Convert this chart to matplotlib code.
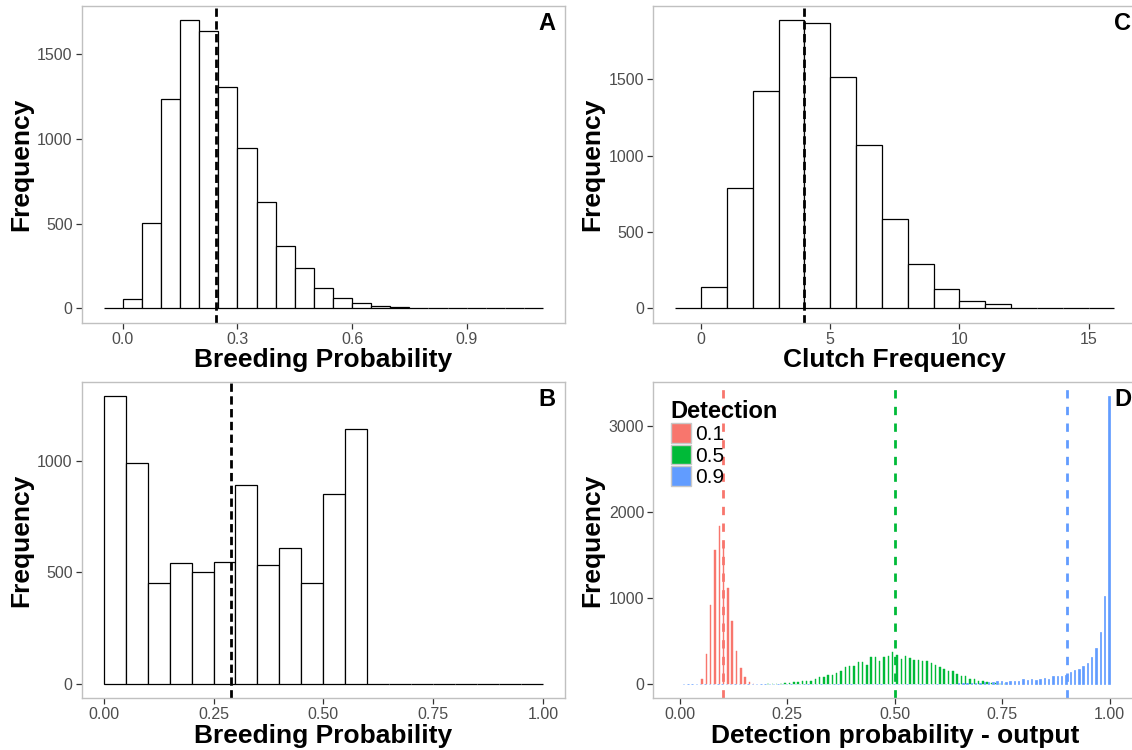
import matplotlib.pyplot as plt
import numpy as np
from matplotlib.patches import Patch
from matplotlib.transforms import blended_transform_factory

plt.rcParams['font.family'] = ['Liberation Sans', 'DejaVu Sans']

# Panel A: breeding probability, bins of 0.05 starting at -0.05
a_start, a_bw = -0.05, 0.05
a_counts = [0, 53, 505, 1234, 1702, 1639, 1306, 946, 629, 370, 236, 122,
            59, 33, 12, 8, 2, 1, 3, 1, 1, 2, 0]
a_line = 0.245
a_xticks = [0.0, 0.3, 0.6, 0.9]
a_xticklabels = ['0.0', '0.3', '0.6', '0.9']

# Panel B: breeding probability, bins of 0.05 from 0 to 1
b_start, b_bw = 0.0, 0.05
b_counts = [1290, 989, 453, 541, 500, 545, 891, 535, 610, 451, 852, 1142,
            0, 0, 0, 0, 0, 0, 0, 0]
b_line = 0.29
b_xticks = [0.0, 0.25, 0.5, 0.75, 1.0]
b_xticklabels = ['0.00', '0.25', '0.50', '0.75', '1.00']

# Panel C: clutch frequency, bins of 1 starting at -1
c_start, c_bw = -1, 1
c_counts = [0, 138, 786, 1426, 1889, 1870, 1514, 1070, 587, 290, 129, 50,
            30, 5, 1, 2, 1]
c_line = 4.0
c_xticks = [0, 5, 10, 15]
c_xticklabels = ['0', '5', '10', '15']

# Panel D: detection probability output, bins of 0.01 from 0 to 1
d_bw = 0.01
red_start = 0.05
red_counts = [58, 349, 919, 1550, 1833, 1650, 1116, 725, 380, 190, 75, 22, 5]
green_start = 0.20
green_counts = [2, 3, 4, 4, 12, 12, 19, 23, 31, 31, 39, 58, 78, 78, 105, 105,
                128, 155, 202, 209, 209, 256, 256, 225, 310, 310, 271, 310,
                322, 372, 340, 295, 329, 302, 283, 283, 264, 264, 244, 225,
                194, 178, 147, 147, 120, 89, 89, 62, 58, 31, 39, 19, 12, 8,
                4, 2]
blue_start = 0.0
blue_counts = [0] * 60 + [2, 3, 4, 5, 6, 8, 10, 12, 14, 16, 18, 22, 27, 31,
                          31, 27, 31, 39, 31, 58, 47, 54, 43, 54, 70, 62, 89,
                          97, 97, 105, 136, 160, 171, 210, 248, 318, 415, 601,
                          1019, 3341]
d_levels = ['0.1', '0.5', '0.9']
d_true = [0.1, 0.5, 0.9]
d_colors = ['#F8766D', '#00BA38', '#619CFF']
d_xticks = [0.0, 0.25, 0.5, 0.75, 1.0]
d_xticklabels = ['0.00', '0.25', '0.50', '0.75', '1.00']


def style(ax, xlabel):
    for s in ax.spines.values():
        s.set_color('#c0c0c0')
        s.set_linewidth(1.0)
    ax.tick_params(direction='out', length=4, width=0.9, color='#333333',
                   labelcolor='#4d4d4d', labelsize=11.5, pad=2.5)
    ax.set_xlabel(xlabel, fontsize=19, fontweight='bold', labelpad=1)
    ax.set_ylabel('Frequency', fontsize=19, fontweight='bold', labelpad=3)


def panel_letter(ax, letter, ymax, xfrac):
    tr = blended_transform_factory(ax.transAxes, ax.transData)
    ax.annotate(letter, (xfrac, ymax), xycoords=tr, xytext=(0, -2.5),
                textcoords='offset points', ha='right', va='center',
                fontsize=17, fontweight='bold')


def hist_panel(ax, start, bw, counts, line, xticks, xticklabels, yticks,
               xlabel, letter, xfrac):
    counts = np.array(counts)
    edges = start + bw * np.arange(len(counts))
    ax.bar(edges, counts, width=bw, align='edge', facecolor='white',
           edgecolor='black', linewidth=0.9)
    lo, hi = start, start + bw * len(counts)
    pad = 0.05 * (hi - lo)
    ax.set_xlim(lo - pad, hi + pad)
    ymax = counts.max()
    ax.set_ylim(-0.05 * ymax, 1.05 * ymax)
    ax.axvline(line, color='black', lw=2.0, dashes=(3, 1.6))
    ax.set_xticks(xticks)
    ax.set_xticklabels(xticklabels)
    ax.set_yticks(yticks)
    style(ax, xlabel)
    panel_letter(ax, letter, ymax, xfrac)


fig = plt.figure(figsize=(11.32, 7.5), dpi=100)
axA = fig.add_axes([0.0722, 0.5697, 0.4269, 0.4227])
axC = fig.add_axes([0.5771, 0.5697, 0.4267, 0.4227])
axB = fig.add_axes([0.0722, 0.0689, 0.4269, 0.4221])
axD = fig.add_axes([0.5771, 0.0689, 0.4267, 0.4221])

hist_panel(axA, a_start, a_bw, a_counts, a_line, a_xticks, a_xticklabels,
           [0, 500, 1000, 1500], 'Breeding Probability', 'A', 0.98)
hist_panel(axB, b_start, b_bw, b_counts, b_line, b_xticks, b_xticklabels,
           [0, 500, 1000], 'Breeding Probability', 'B', 0.98)
hist_panel(axC, c_start, c_bw, c_counts, c_line, c_xticks, c_xticklabels,
           [0, 500, 1000, 1500], 'Clutch Frequency', 'C', 0.99)

# Panel D: dodged histogram bars, one third of a bin per group
groups = [(red_start, red_counts), (green_start, green_counts),
          (blue_start, blue_counts)]
offsets = [-d_bw / 3, 0.0, d_bw / 3]
for (start, counts), off, col in zip(groups, offsets, d_colors):
    centers = start + d_bw * (np.arange(len(counts)) + 0.5)
    edge_lw = 0.5 if col == d_colors[2] else 0.3
    axD.bar(centers + off, counts, width=d_bw / 3, color=col,
            edgecolor=col, linewidth=edge_lw)
for v, col in zip(d_true, d_colors):
    axD.axvline(v, color=col, lw=2.0, dashes=(3, 3))
dmax = max(max(red_counts), max(green_counts), max(blue_counts))
axD.set_xlim(-0.062, 1.062)
axD.set_ylim(-0.05 * dmax, 1.05 * dmax)
axD.set_xticks(d_xticks)
axD.set_xticklabels(d_xticklabels)
axD.set_yticks([0, 1000, 2000, 3000])
style(axD, 'Detection probability - output')
panel_letter(axD, 'D', dmax, 0.99)

handles = [Patch(facecolor=c, edgecolor='#c8c8c8', linewidth=1.0)
           for c in d_colors]
leg = axD.legend(handles, d_levels, title='Detection', loc='upper left',
                 bbox_to_anchor=(0.036, 0.943), frameon=False, fontsize=15,
                 title_fontproperties={'weight': 'bold', 'size': 17},
                 handlelength=1.0, handleheight=1.05, labelspacing=0.03,
                 handletextpad=0.17, borderpad=0, borderaxespad=0,
                 alignment='left')

fig.savefig('out.png', dpi=100)
